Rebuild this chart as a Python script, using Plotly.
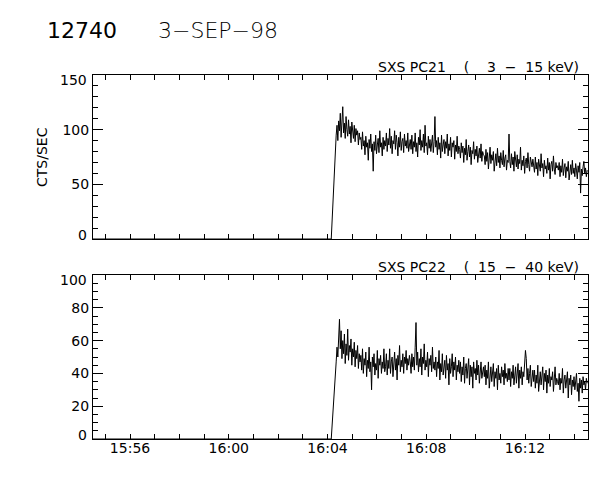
import plotly.graph_objects as go
import pandas as pd

# ---------------- data ----------------
pre_times = ["1998-09-03 15:54:30", "1998-09-03 16:04:09"]
pre_pc21 = [0, 0]
pre_pc22 = [0, 0]
flare_start = "1998-09-03 16:04:21"
sample_seconds = 2

# SXS PC21 (3-15 keV) counts/s, one value every 2 s from 16:04:21 (30 per minute)
pc21 = [
    95, 104, 90, 108, 99, 115, 93, 110, 121, 97, 106, 92, 112, 100, 94, 109, 96, 103, 88, 107, 98, 92, 104, 89, 101, 95, 99, 86, 97, 91,
    93, 82, 98, 85, 90, 77, 94, 84, 88, 72, 91, 83, 96, 80, 87, 62, 89, 81, 95, 78, 86, 92, 79, 99, 84, 88, 76, 93, 82, 90,
    85, 97, 80, 92, 86, 101, 83, 94, 78, 90, 87, 99, 82, 95, 88, 76, 93, 84, 98, 81, 89, 92, 79, 96, 85, 90, 83, 97, 80, 88,
    91, 82, 95, 78, 89, 84, 97, 80, 88, 75, 93, 86, 100, 81, 90, 84, 96, 79, 104, 85, 88, 77, 94, 83, 91, 80, 87, 95, 79, 89,
    112, 84, 90, 77, 93, 82, 88, 74, 95, 80, 86, 91, 78, 89, 83, 96, 76, 87, 81, 93, 75, 88, 84, 90, 73, 86, 80, 94, 78, 85,
    82, 74, 88, 79, 85, 70, 83, 77, 91, 72, 80, 86, 75, 84, 68, 81, 78, 89, 73, 82, 76, 85, 70, 79, 83, 74, 87, 71, 80, 77,
    76, 68, 82, 71, 79, 64, 75, 84, 69, 77, 72, 80, 62, 74, 78, 67, 83, 70, 76, 65, 79, 72, 68, 81, 66, 74, 77, 63, 72, 70,
    96, 71, 65, 78, 68, 75, 62, 80, 70, 66, 77, 64, 73, 69, 84, 63, 72, 67, 76, 60, 71, 74, 65, 79, 68, 62, 75, 70, 66, 73,
    68, 61, 75, 64, 70, 58, 73, 66, 62, 78, 65, 69, 57, 72, 64, 67, 60, 74, 63, 70, 55, 68, 71, 62, 76, 64, 59, 70, 65, 67,
    63, 70, 57, 67, 61, 73, 58, 65, 69, 56, 66, 62, 71, 54, 64, 68, 59, 72, 60, 65, 57, 69, 63, 55, 67, 61, 70, 42, 64, 58,
    66, 71, 60, 65, 57, 63,
]

# SXS PC22 (15-40 keV) counts/s, one value every 2 s from 16:04:21 (30 per minute)
pc22 = [
    47, 56, 50, 62, 73, 55, 66, 49, 60, 52, 64, 46, 58, 51, 67, 48, 57, 53, 61, 45, 55, 50, 59, 44, 54, 49, 57, 43, 52, 47,
    51, 42, 55, 40, 49, 45, 53, 38, 48, 43, 56, 41, 47, 30, 50, 44, 52, 39, 46, 42, 54, 37, 49, 45, 51, 40, 47, 43, 55, 41,
    44, 52, 39, 48, 43, 55, 40, 47, 50, 38, 46, 53, 42, 49, 36, 51, 45, 57, 41, 48, 44, 52, 40, 50, 46, 54, 42, 49, 45, 51,
    47, 40, 52, 44, 50, 42, 56, 71, 45, 53, 41, 49, 44, 55, 39, 50, 46, 58, 42, 48, 44, 53, 38, 49, 45, 51, 41, 56, 43, 47,
    42, 50, 38, 47, 43, 54, 36, 46, 41, 52, 39, 45, 48, 37, 51, 42, 46, 33, 49, 40, 44, 52, 38, 47, 42, 50, 36, 45, 41, 48,
    40, 47, 35, 44, 39, 50, 34, 43, 46, 37, 42, 49, 33, 45, 38, 44, 31, 47, 40, 43, 36, 48, 39, 45, 34, 42, 47, 37, 41, 44,
    38, 45, 33, 42, 37, 47, 31, 40, 44, 35, 39, 46, 32, 41, 37, 43, 30, 45, 36, 40, 34, 44, 38, 42, 33, 46, 37, 40, 35, 43,
    36, 43, 32, 41, 37, 45, 33, 40, 44, 34, 39, 46, 31, 42, 37, 44, 33, 41, 38, 46, 54, 49, 36, 43, 34, 40, 45, 32, 39, 42,
    35, 42, 31, 39, 34, 45, 29, 38, 41, 33, 37, 44, 30, 40, 35, 42, 28, 39, 34, 43, 32, 38, 36, 41, 29, 39, 44, 33, 37, 35,
    33, 40, 30, 37, 34, 43, 28, 36, 39, 31, 35, 41, 25, 37, 33, 39, 27, 36, 32, 38, 30, 35, 40, 29, 34, 23, 37, 31, 36, 28,
    38, 33, 35, 30, 37, 34,
]

x_range = ["1998-09-03 15:54:30", "1998-09-03 16:14:33"]
tick_start = "1998-09-03 15:56:00"
top_yticks = [0, 50, 100, 150]
bot_yticks = [0, 20, 40, 60, 80, 100]

title_main = "12740"
title_date = "3\u2212SEP\u221298"
nb = "\u00a0"
label21 = "SXS" + nb + "PC21" + nb * 4 + "(" + nb * 4 + "3" + nb * 2 + "\u2212" + nb * 2 + "15" + nb + "keV)"
label22 = "SXS" + nb + "PC22" + nb * 4 + "(" + nb * 2 + "15" + nb * 2 + "\u2212" + nb * 2 + "40" + nb + "keV)"
ylabel = "CTS/SEC"


def series_times(values):
    ft = pd.date_range(flare_start, periods=len(values), freq=f"{sample_seconds}s")
    return pre_times + list(ft.strftime("%Y-%m-%d %H:%M:%S"))


def inner_text(ticks):
    # end labels are drawn separately, tucked inside the frame height like IDL does
    return [""] + [str(t) for t in ticks[1:-1]] + [""]


# ---------------- figure ----------------
FONT = "DejaVu Sans"
fig = go.Figure()
fig.add_trace(go.Scatter(x=series_times(pc21), y=pre_pc21 + pc21, mode="lines",
                         line=dict(color="black", width=1), xaxis="x", yaxis="y",
                         showlegend=False, hoverinfo="skip"))
fig.add_trace(go.Scatter(x=series_times(pc22), y=pre_pc22 + pc22, mode="lines",
                         line=dict(color="black", width=1), xaxis="x2", yaxis="y2",
                         showlegend=False, hoverinfo="skip"))

W, H = 600, 480
x0, x1 = 93, 588
top_t, top_b = 75, 239
bot_t, bot_b = 275, 439

xcommon = dict(
    type="date", range=x_range, domain=[x0 / W, x1 / W],
    showline=True, linecolor="black", linewidth=1, mirror="ticks",
    ticks="inside", ticklen=5, tickcolor="black", tickwidth=1,
    dtick=240000, tick0=tick_start, tickformat="%H:%M",
    minor=dict(dtick=60000, tick0=tick_start, ticks="inside", ticklen=5, tickcolor="black"),
    showgrid=False, zeroline=False,
    tickfont=dict(family=FONT, size=14, color="black"),
)
ycommon = dict(
    showline=True, linecolor="black", linewidth=1, mirror="ticks",
    ticks="inside", ticklen=10, tickcolor="black", tickwidth=1,
    showgrid=False, zeroline=False,
    tickfont=dict(family=FONT, size=14, color="black"),
)

lab_font = dict(family=FONT, size=14, color="black")
lab_x = 89 / W
annotations = [
    dict(text=title_main, x=45 / W, y=1 - 30 / H, xref="paper", yref="paper",
         xanchor="left", yanchor="middle", showarrow=False,
         font=dict(family=FONT, size=22, color="black")),
    dict(text=title_date, x=156 / W, y=1 - 30 / H, xref="paper", yref="paper",
         xanchor="left", yanchor="middle", showarrow=False,
         font=dict(family=FONT, size=22, color="black", weight=200)),
    dict(text=label21, x=581 / W, y=1 - top_t / H, xref="paper", yref="paper",
         xanchor="right", yanchor="bottom", showarrow=False, yshift=-2,
         font=lab_font),
    dict(text=label22, x=581 / W, y=1 - bot_t / H, xref="paper", yref="paper",
         xanchor="right", yanchor="bottom", showarrow=False, yshift=-2,
         font=lab_font),
    dict(text=ylabel, x=42 / W, y=1 - 157 / H, xref="paper", yref="paper",
         xanchor="center", yanchor="middle", textangle=-90, showarrow=False,
         font=lab_font),
    # end-of-axis labels
    dict(text=str(top_yticks[-1]), x=lab_x, y=top_yticks[-1], xref="paper", yref="y",
         xanchor="right", yanchor="top", showarrow=False, font=lab_font, yshift=5),
    dict(text=str(top_yticks[0]), x=lab_x, y=top_yticks[0], xref="paper", yref="y",
         xanchor="right", yanchor="bottom", showarrow=False, font=lab_font, yshift=-6),
    dict(text=str(bot_yticks[-1]), x=lab_x, y=bot_yticks[-1], xref="paper", yref="y2",
         xanchor="right", yanchor="top", showarrow=False, font=lab_font, yshift=5),
    dict(text=str(bot_yticks[0]), x=lab_x, y=bot_yticks[0], xref="paper", yref="y2",
         xanchor="right", yanchor="bottom", showarrow=False, font=lab_font, yshift=-6),
]

fig.update_layout(
    width=W, height=H, margin=dict(l=0, r=0, t=0, b=0),
    paper_bgcolor="white", plot_bgcolor="white",
    xaxis=dict(xcommon, anchor="y", showticklabels=False),
    yaxis=dict(ycommon, domain=[1 - top_b / H, 1 - top_t / H], range=[0, 150],
               tickvals=top_yticks, ticktext=inner_text(top_yticks),
               minor=dict(dtick=10, ticks="inside", ticklen=5, tickcolor="black")),
    xaxis2=dict(xcommon, anchor="y2", ticklabelstandoff=-4),
    yaxis2=dict(ycommon, domain=[1 - bot_b / H, 1 - bot_t / H], range=[0, 100],
                tickvals=bot_yticks, ticktext=inner_text(bot_yticks),
                minor=dict(dtick=5, ticks="inside", ticklen=5, tickcolor="black")),
    font=dict(family=FONT, color="black"),
    annotations=annotations,
)

fig.write_html("out.html", config={"displayModeBar": False},
               post_script="document.body.style.margin='0';")
